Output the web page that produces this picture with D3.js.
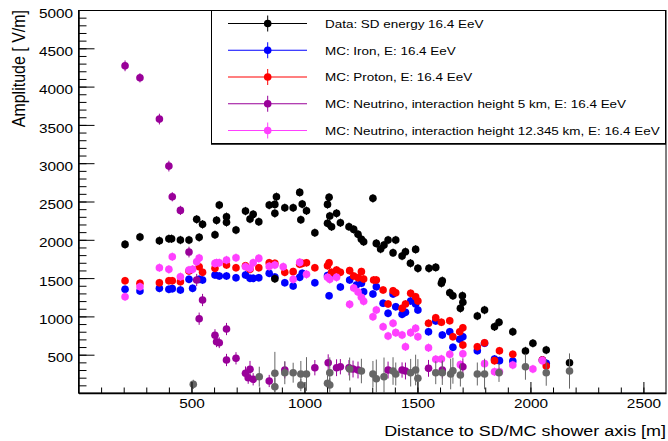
<!DOCTYPE html>
<html>
<head>
<meta charset="utf-8">
<script src="https://cdn.jsdelivr.net/npm/d3@7"></script>
<style>
  body { margin: 0; background: #fff; }
  svg { display: block; font-family: "Liberation Sans", Arial, Helvetica, sans-serif; }
</style>
</head>
<body>
<div id="chart"></div>
<script>
// axis ranges / tick labels
var xDomain = [0, 2600];
var yDomain = [0, 5000];
var xTickLabels = [500, 1000, 1500, 2000, 2500];
var yTickLabels = [500, 1000, 1500, 2000, 2500, 3000, 3500, 4000, 4500, 5000];

// Data: SD energy 16.4 EeV  [distance, amplitude]
var dataSD = [[206,1940],[272,2036],[358,1988],[400,2014],[412,2014],[451,1997],[489,1997],[523,2267],[534,2032],[549,2202],
  [604,2066],[611,2254],[623,2453],[655,2301],[655,2228],[697,2127],[739,2375],[759,2271],[773,2332],[798,2236],
  [844,2453],[869,2462],[869,2345],[876,2562],[913,2418],[950,2418],[979,2619],[984,2262],[990,2466],[1009,2379],
  [1046,2092],[869,1492],[1102,2462],[1109,2554],[1102,2215],[1112,2310],[1120,2171],[1142,2345],[1159,2222],[1197,2171],
  [1218,2136],[1237,2071],[1252,2006],[1262,1975],[1303,2541],[1318,1953],[1337,1879],[1352,1931],[1370,1997],[1392,1831],
  [1404,1997],[1432,1788],[1447,1844],[1469,1693],[1492,1875],[1502,1627],[1551,1627],[1581,1640],[1606,1432],[1610,1466],
  [1643,1309],[1657,1270],[1699,1270],[1701,1184],[1690,1105],[1765,1005],[1797,1083],[1841,865],[1861,923],[1922,800],
  [1978,548],[2011,649],[2070,561],[2173,395]];
var errSD = 55;

// MC: Iron
var mcIron = [[206,1353],[272,1331],[358,1366],[400,1353],[415,1362],[451,1344],[489,1484],[505,1366],[534,1484],[549,1475],
  [604,1540],[623,1527],[655,1527],[697,1505],[739,1540],[759,1497],[773,1497],[798,1505],[844,1562],[869,1514],
  [913,1440],[950,1397],[979,1510],[990,1562],[1046,1440],[1102,1532],[1109,1270],[1120,1562],[1159,1384],[1200,1475],
  [1230,1410],[1252,1432],[1262,1322],[1303,1292],[1318,1388],[1348,1171],[1370,1040],[1392,1292],[1404,1126],[1432,1027],
  [1447,1053],[1470,1201],[1492,1162],[1502,1083],[1549,800],[1581,940],[1610,757],[1643,800],[1657,596],[1687,701],
  [1701,735],[1765,552],[1797,649],[1841,444],[1863,422],[1922,418],[2053,431],[2070,388]];
var errIron = 50;

// MC: Proton
var mcProton = [[206,1466],[272,1432],[358,1440],[400,1466],[415,1466],[451,1453],[489,1592],[534,1649],[549,1575],[604,1627],
  [655,1671],[697,1636],[739,1662],[759,1614],[798,1636],[844,1701],[869,1692],[913,1575],[950,1584],[979,1680],
  [990,1692],[1009,1700],[1046,1636],[1102,1662],[1109,1701],[1120,1575],[1142,1605],[1159,1575],[1200,1597],[1218,1527],
  [1237,1505],[1252,1584],[1262,1488],[1306,1475],[1318,1475],[1348,1344],[1370,1162],[1392,1335],[1404,1309],[1432,1105],
  [1447,1162],[1470,1301],[1492,1257],[1502,1201],[1549,910],[1581,983],[1606,923],[1643,944],[1657,735],[1687,800],
  [1701,852],[1701,626],[1765,604],[1797,656],[1841,422],[1863,552],[1922,505],[2053,431],[2070,352]];
var errProton = 50;

// MC: Neutrino, interaction height 5 km  [distance, amplitude, error]
var mcNu5 = [[206,4271,70],[272,4115,60],[358,3576,70],[400,2962,70],[415,2562,60],[451,2384,60],[489,1840,70],[523,1475,80],
  [549,1214,80],[534,970,80],[604,753,80],[611,669,70],[623,656,70],[655,835,80],[655,431,80],[697,453,80],[739,257,90],
  [759,309,110],[751,200,80],[773,179,80],[844,157,80],[913,300,110],[1046,330,100],[1105,395,110],[1142,330,110],
  [1159,343,100],[1197,330,100],[1215,313,110],[1237,300,110],[1370,300,110],[1432,300,100],[1447,287,110],[1549,322,110],
  [1610,300,110],[1701,343,110]];

// MC: Neutrino, interaction height 12.345 km
var mcNu12 = [[206,1257],[272,1388],[358,1636],[400,1614],[415,1779],[451,1518],[489,1605],[505,1614],[523,1714],[534,1762],
  [604,1692],[611,1700],[623,1700],[655,1736],[697,1766],[739,1649],[759,1627],[773,1700],[798,1757],[844,1653],
  [869,1671],[906,1649],[950,1484],[979,1705],[1009,1549],[1102,1510],[1112,1484],[1142,1510],[1200,1157],[1218,1370],
  [1237,1318],[1252,1249],[1262,1197],[1303,996],[1318,1083],[1348,865],[1370,744],[1392,910],[1404,788],[1432,757],
  [1447,604],[1470,788],[1492,844],[1502,735],[1549,591],[1581,439],[1606,444],[1643,505],[1690,370],[1701,513],
  [1797,383],[1841,278],[1863,278],[1922,365],[2011,313],[2053,422]];
var errNu12 = 55;

// grey points (no legend entry)  [distance, amplitude, error]
var greyPts = [[508,113,60],[800,213,130],[869,257,280],[869,82,120],[913,265,150],[950,265,130],[984,248,170],[984,104,80],
  [1009,248,220],[1102,127,100],[1112,104,90],[1112,265,200],[1200,313,150],[1252,287,160],[1303,248,170],[1318,187,250],
  [1352,213,250],[1392,287,180],[1404,248,150],[1470,265,180],[1492,300,200],[1502,192,250],[1581,265,150],[1610,265,160],
  [1647,248,200],[1657,291,170],[1690,235,150],[1765,248,150],[1797,248,200],[1861,265,120],[1978,343,170],[2070,265,170],
  [2173,287,230]];

var legendLabels = [
  "Data: SD energy 16.4 EeV",
  "MC: Iron, E: 16.4 EeV",
  "MC: Proton, E: 16.4 EeV",
  "MC: Neutrino, interaction height 5 km, E: 16.4 EeV",
  "MC: Neutrino, interaction height 12.345 km, E: 16.4 EeV"
];

var W = 668, H = 441;
var padL = 78.5, padR = 666, padT = 10, padB = 393;
var sx = 1.18; // glyphs in the picture are a bit wide

var x = d3.scaleLinear().domain(xDomain).range([padL, padR]);
var y = d3.scaleLinear().domain(yDomain).range([padB, padT]);

var svg = d3.select("#chart").append("svg").attr("width", W).attr("height", H);

// frame
svg.append("rect").attr("x", padL).attr("y", padT + 0.5).attr("width", padR - padL).attr("height", padB - padT - 0.5)
  .attr("fill", "none").attr("stroke", "#000").attr("stroke-width", 1);

// 系列：画点和误差棒
function drawSeries(pts, col, err) {
  var g = svg.append("g");
  g.selectAll("line").data(pts).enter().append("line")
    .attr("x1", function (d) { return x(d[0]); }).attr("x2", function (d) { return x(d[0]); })
    .attr("y1", function (d) { return y(Math.max(0, d[1] - (d[2] != null ? d[2] : err))); })
    .attr("y2", function (d) { return y(d[1] + (d[2] != null ? d[2] : err)); })
    .attr("stroke", col).attr("stroke-width", 1);
  g.selectAll("circle").data(pts).enter().append("circle")
    .attr("cx", function (d) { return x(d[0]); })
    .attr("cy", function (d) { return y(d[1]); })
    .attr("r", 3.8).attr("fill", col);
}

var cBlack = "#000000", cBlue = "#0000ff", cRed = "#ff0000", cPurple = "#990099", cMagenta = "#ff40ff", cGrey = "#666666";

drawSeries(mcIron, cBlue, errIron);
drawSeries(mcProton, cRed, errProton);
drawSeries(mcNu12, cMagenta, errNu12);
drawSeries(mcNu5, cPurple, 0);
drawSeries(dataSD, cBlack, errSD);
drawSeries(greyPts, cGrey, 0);

// x 轴
var xMinor = d3.axisBottom(x).tickValues(d3.range(100, 2600, 100)).tickFormat("").tickSizeInner(-5.5).tickSizeOuter(0);
svg.append("g").attr("transform", "translate(0," + padB + ")").call(xMinor).call(function (g) { g.select(".domain").remove(); });
var xAxis = d3.axisBottom(x).tickValues(xTickLabels).tickFormat(d3.format("d")).tickSizeInner(-11).tickSizeOuter(0).tickPadding(6);
var gx = svg.append("g").attr("transform", "translate(0," + padB + ")").call(xAxis);
gx.attr("font-family", null);
gx.select(".domain").attr("stroke-width", 1.5);
gx.selectAll("text").attr("font-size", 13).attr("fill", "#000")
  .attr("transform", "scale(" + sx + ",1)");

// y 轴
var yMinor = d3.axisLeft(y).tickValues(d3.range(100, 5000, 100)).tickFormat("").tickSizeInner(-8).tickSizeOuter(0);
svg.append("g").attr("transform", "translate(" + padL + ",0)").call(yMinor).call(function (g) { g.select(".domain").remove(); });
var yAxis = d3.axisLeft(y).tickValues(yTickLabels).tickFormat(d3.format("d")).tickSizeInner(-16).tickSizeOuter(0).tickPadding(5);
var gy = svg.append("g").attr("transform", "translate(" + padL + ",0)").call(yAxis);
gy.attr("font-family", null);
gy.select(".domain").attr("stroke-width", 1.5);
gy.selectAll("text").attr("font-size", 13).attr("fill", "#000")
  .attr("x", -5.5 / sx).attr("dy", "0.55em").attr("transform", "scale(" + sx + ",1)");
svg.selectAll(".tick line").attr("stroke", "#000");

// axis titles
svg.append("text").attr("transform", "translate(" + padR + ",436) scale(" + sx + ",1)")
  .attr("text-anchor", "end").attr("font-size", 15.2).text("Distance to SD/MC shower axis [m]");
svg.append("text").attr("transform", "translate(24.5," + padT + ") scale(" + sx + ",1) rotate(-90)")
  .attr("text-anchor", "end").attr("font-size", 16).text("Amplitude [  V/m]");

// legend
var lg = svg.append("g");
lg.append("rect").attr("x", 211.5).attr("y", 10.5).attr("width", 454).attr("height", 133)
  .attr("fill", "#fff").attr("stroke", "#000").attr("stroke-width", 1);
lg.append("line").attr("x1", 211).attr("x2", 666).attr("y1", 144).attr("y2", 144).attr("stroke", "#000").attr("stroke-width", 1.5);
var legCols = [cBlack, cBlue, cRed, cPurple, cMagenta];
var rowY = d3.scaleLinear().domain([0, 4]).range([23.5, 130.5]);
var rows = lg.selectAll(".row").data(legendLabels).enter().append("g")
  .attr("transform", function (d, i) { return "translate(0," + rowY(i) + ")"; });
rows.append("line").attr("x1", 228).attr("x2", 307).attr("y1", 0).attr("y2", 0)
  .attr("stroke", function (d, i) { return legCols[i]; }).attr("stroke-width", 1.2);
rows.append("line").attr("x1", 267.7).attr("x2", 267.7).attr("y1", -8).attr("y2", 8)
  .attr("stroke", function (d, i) { return legCols[i]; }).attr("stroke-width", 1);
rows.append("circle").attr("cx", 267.7).attr("cy", 0).attr("r", 3.8)
  .attr("fill", function (d, i) { return legCols[i]; });
rows.append("text").attr("transform", "translate(325,4.4) scale(1.16,1)")
  .attr("font-size", 11.6).text(function (d) { return d; });
</script>
</body>
</html>
